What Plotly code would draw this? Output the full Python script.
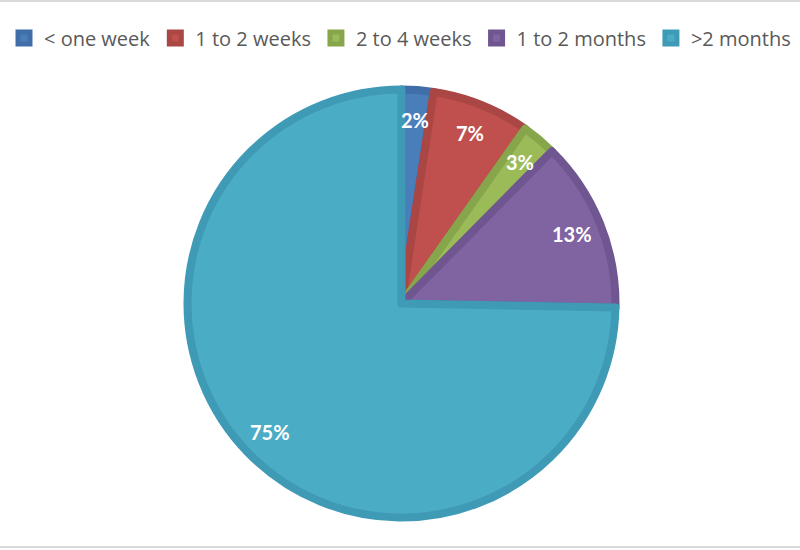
import numpy as np
import plotly.graph_objects as go

# slice data (shares in %)
labels = ["< one week", "1 to 2 weeks", "2 to 4 weeks", "1 to 2 months", ">2 months"]
values = [2.4, 7.4, 2.6, 12.9, 74.7]
colors = ["#4a7ebb", "#c0504d", "#9bbb59", "#8064a2", "#4bacc6"]
edge_colors = ["#3f6ea8", "#aa4644", "#87a64b", "#6f5690", "#3f9ab5"]

W, H = 800, 550
cx, cy, R = 401.5, 303.5, 214.0  # pie centre / radius in pixels

fig = go.Figure()

fig.add_trace(go.Pie(
    labels=labels,
    values=values,
    sort=False,
    direction="clockwise",
    rotation=0,
    marker=dict(colors=colors, line=dict(color=edge_colors, width=8)),
    textinfo="none",
    hoverinfo="label+percent",
    domain=dict(x=[(cx - R) / W, (cx + R) / W],
                y=[(H - cy - R) / H, (H - cy + R) / H]),
))

# percentage labels placed at the middle angle of each slice
total = sum(values)
cum = np.cumsum([0] + values)
for i, v in enumerate(values):
    mid = (cum[i] + v / 2) / total * 2 * np.pi
    px = cx + 0.86 * R * np.sin(mid)
    py = cy - 0.86 * R * np.cos(mid)
    fig.add_annotation(
        x=px / W, y=1 - py / H, xref="paper", yref="paper",
        xanchor="center", yanchor="middle",
        text=f"<b>{v / total:.0%}</b>", showarrow=False,
        font=dict(family="Lato", size=20, color="white"),
    )

# light grey frame lines top and bottom
for yy in [1 - 1 / H, 3 / H]:
    fig.add_shape(type="line", xref="paper", yref="paper",
                  x0=0, x1=1, y0=yy, y1=yy,
                  line=dict(color="#d9d9d9", width=2))

fig.update_layout(
    width=W, height=H,
    margin=dict(l=0, r=0, t=0, b=0),
    paper_bgcolor="white",
    plot_bgcolor="white",
    font=dict(family="Open Sans", size=20, color="#595959"),
    legend=dict(orientation="h", x=0.5, xanchor="center",
                y=1 - 38 / H, yanchor="middle",
                itemclick=False, font=dict(size=20, color="#595959")),
    showlegend=True,
)

fig.write_html("out.html", config={"displayModeBar": False},
               post_script="document.body.style.margin='0';")
